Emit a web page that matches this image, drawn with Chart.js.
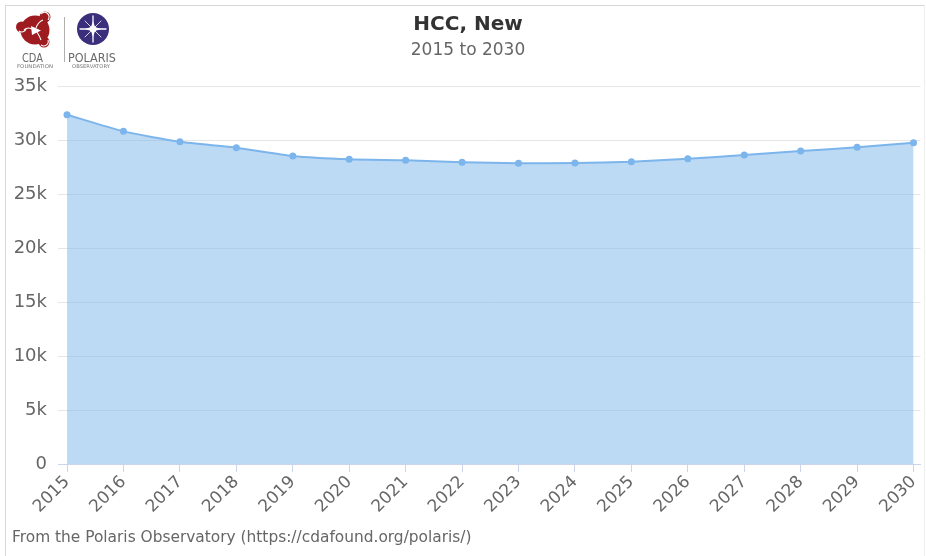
<!DOCTYPE html>
<html>
<head>
<meta charset="utf-8">
<script src="https://cdn.jsdelivr.net/npm/chart.js@4.4.1/dist/chart.umd.min.js"></script>
<style>
html,body{margin:0;padding:0;background:#fff;overflow:hidden;}
#wrap{position:relative;width:926px;height:556px;overflow:hidden;font-family:"DejaVu Sans",sans-serif;}
#frame{position:absolute;left:5px;top:5px;width:918px;height:560px;border-left:1px solid #d8d8d8;border-top:1px solid #d8d8d8;border-right:1px solid #eeeeee;}
#chart{position:absolute;left:0;top:0;}
.ttl{position:absolute;left:0;width:936px;text-align:center;white-space:nowrap;}
#title{top:11px;font-size:20px;font-weight:bold;color:#333;}
#subtitle{top:39px;font-size:17px;color:#666;}
#footer{position:absolute;left:12px;top:528px;font-size:15.4px;color:#666;white-space:nowrap;}
#logo{position:absolute;left:0;top:0;}
</style>
</head>
<body>
<div id="wrap">
  <div id="frame"></div>
  <canvas id="chart" width="928" height="556"></canvas>
  <div class="ttl" id="title">HCC, New</div>
  <div class="ttl" id="subtitle">2015 to 2030</div>
  <div id="footer">From the Polaris Observatory (https://cdafound.org/polaris/)</div>
  <svg id="logo" width="130" height="75" viewBox="0 0 130 75">
    <g>
      <circle cx="35" cy="30" r="14.5" fill="#9e1b20"/>
      <circle cx="21.5" cy="27" r="5.5" fill="#9e1b20"/>
      <circle cx="45" cy="17" r="5.5" fill="#9e1b20"/>
      <circle cx="44" cy="42" r="5.5" fill="#9e1b20"/>
      <g fill="none" stroke="#fff" stroke-width="1.1">
        <path d="M19 31 A4.5 4.5 0 0 0 26 29"/>
        <path d="M41 14 A4.5 4.5 0 0 1 48 20"/>
        <path d="M48 40 A4.5 4.5 0 0 1 41 45"/>
        <path d="M34 30 Q28 26 24 30"/>
        <path d="M36 28 Q38 22 43 20"/>
        <path d="M37 32 Q40 37 41 40"/>
      </g>
      <path d="M31 26 L41 30.5 L32 35 Z" fill="#fff"/>
    </g>
    <text x="22" y="62" font-size="12" fill="#6a6a6a" textLength="21" lengthAdjust="spacingAndGlyphs" font-family="DejaVu Sans">CDA</text>
    <text x="17" y="67.5" font-size="5" fill="#777" textLength="36" lengthAdjust="spacingAndGlyphs" font-family="DejaVu Sans">FOUNDATION</text>
    <line x1="64.5" y1="17" x2="64.5" y2="62" stroke="#b0b0b0" stroke-width="1"/>
    <circle cx="93" cy="29" r="16" fill="#3b2f7c"/>
    <g stroke="#fff" stroke-linecap="round">
      <line x1="93" y1="16" x2="93" y2="42" stroke-width="1.3"/>
      <line x1="80" y1="29" x2="106" y2="29" stroke-width="1.3"/>
      <line x1="85" y1="21" x2="101" y2="37" stroke-width="0.8"/>
      <line x1="101" y1="21" x2="85" y2="37" stroke-width="0.8"/>
    </g>
    <path d="M93 21 L95 27 L101 29 L95 31 L93 37 L91 31 L85 29 L91 27 Z" fill="#fff"/>
    <circle cx="93" cy="29" r="3" fill="#fff"/>
    <text x="68" y="62" font-size="12.5" fill="#6a6a6a" textLength="48" lengthAdjust="spacingAndGlyphs" font-family="DejaVu Sans">POLARIS</text>
    <text x="72" y="67.5" font-size="5" fill="#777" textLength="38" lengthAdjust="spacingAndGlyphs" font-family="DejaVu Sans">OBSERVATORY</text>
  </svg>
</div>
<script>
const years = [2015,2016,2017,2018,2019,2020,2021,2022,2023,2024,2025,2026,2027,2028,2029,2030];
const hccNew = [32340,30800,29840,29290,28520,28210,28120,27940,27850,27870,27990,28270,28610,28980,29320,29750];
const yTicks = [0,5000,10000,15000,20000,25000,30000,35000];
const yTickLabels = ['0','5k','10k','15k','20k','25k','30k','35k'];

const points = years.map((yr, i) => ({x: yr, y: hccNew[i]}));

new Chart(document.getElementById('chart'), {
  type: 'line',
  data: {
    datasets: [{
      label: 'HCC, New',
      data: points,
      fill: 'origin',
      backgroundColor: 'rgba(124,181,236,0.5)',
      borderColor: '#7cb5ec',
      borderWidth: 2,
      pointRadius: 3.5,
      pointBackgroundColor: '#7cb5ec',
      pointBorderWidth: 0,
      tension: 0.2
    }]
  },
  options: {
    responsive: false,
    animation: false,
    layout: {padding: {top: 86, right: 1, bottom: 30, left: 0}},
    plugins: {legend: {display: false}, tooltip: {enabled: false}, title: {display: false}},
    scales: {
      x: {
        type: 'linear',
        min: 2014.84,
        max: 2030.124,
        afterBuildTicks: s => { s.ticks = years.map(v => ({value: v})); },
        afterFit: s => { s.height = 62; },
        ticks: {
          minRotation: 45, maxRotation: 45, autoSkip: false,
          color: '#666', font: {family: 'DejaVu Sans', size: 17}, padding: 0,
          callback: v => String(v)
        },
        grid: {drawOnChartArea: false, drawTicks: true, tickLength: 8, color: '#ccd6eb'},
        border: {display: true, color: '#ccd6eb'}
      },
      y: {
        min: 0,
        max: 35000,
        afterBuildTicks: s => { s.ticks = yTicks.map(v => ({value: v})); },
        afterFit: s => { s.width = 58; },
        ticks: {
          color: '#666', font: {family: 'DejaVu Sans', size: 18}, padding: 11,
          callback: (v, i) => yTickLabels[i]
        },
        grid: {color: '#e6e6e6', drawTicks: false},
        border: {display: false}
      }
    }
  }
});
</script>
</body>
</html>
